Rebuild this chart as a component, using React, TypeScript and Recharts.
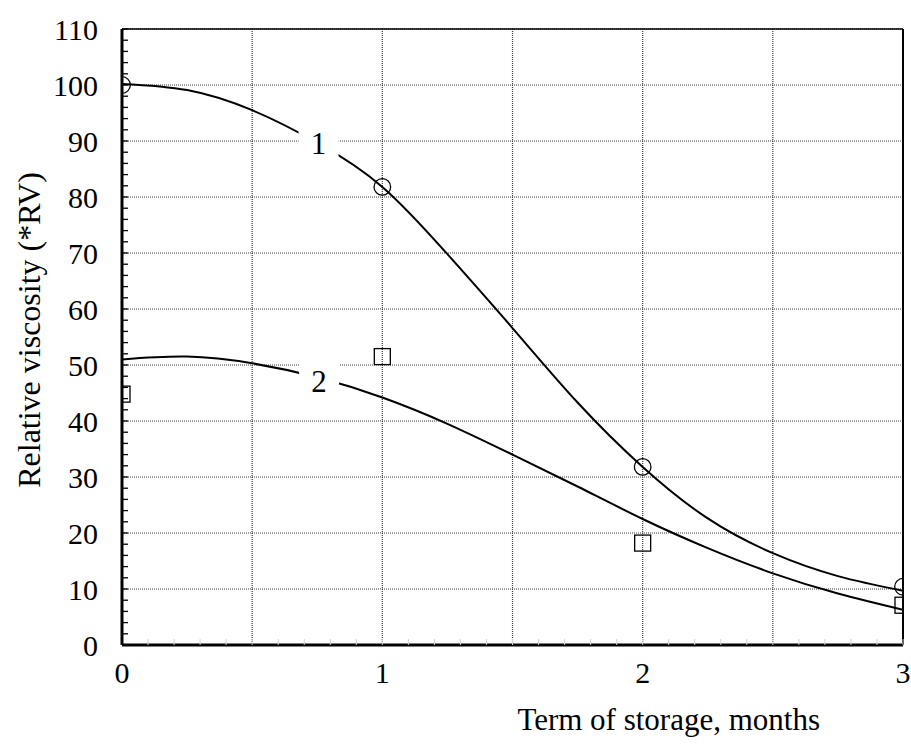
import {
  CartesianGrid,
  ComposedChart,
  Line,
  ReferenceLine,
  Scatter,
  XAxis,
  YAxis,
} from "recharts";

// measured points, months 0..3
const months = [0, 1, 2, 3];
const rvMeasured1 = [100, 81.8, 31.8, 10.4];
const rvMeasured2 = [44.8, 51.5, 18.2, 7.1];

// fitted curves, sampled every quarter month
const curveMonths = [0, 0.25, 0.5, 0.75, 1, 1.25, 1.5, 1.75, 2, 2.25, 2.5, 2.75, 3];
const rvCurve1 = [100.2, 99.1, 95.5, 89.7, 81.8, 69.8, 56.6, 43.3, 31.8, 22.6, 16.4, 12.3, 9.7];
const rvCurve2 = [51.0, 51.5, 50.3, 47.8, 44.2, 39.5, 34.0, 28.3, 22.5, 17.3, 12.8, 9.2, 6.3];

// curve numbers sitting on the lines
const curveTags = ["1", "2"];
const curveTagMonth = [0.755, 0.757];
const curveTagRv = [89.6, 47.0];

// axis ticks (major + minor) and grid lines
const monthTicks = [
  0, 0.1, 0.2, 0.3, 0.4, 0.5, 0.6, 0.7, 0.8, 0.9, 1, 1.1, 1.2, 1.3, 1.4, 1.5, 1.6, 1.7, 1.8,
  1.9, 2, 2.1, 2.2, 2.3, 2.4, 2.5, 2.6, 2.7, 2.8, 2.9, 3,
];
const rvTicks = [
  0, 2, 4, 6, 8, 10, 12, 14, 16, 18, 20, 22, 24, 26, 28, 30, 32, 34, 36, 38, 40, 42, 44, 46, 48,
  50, 52, 54, 56, 58, 60, 62, 64, 66, 68, 70, 72, 74, 76, 78, 80, 82, 84, 86, 88, 90, 92, 94, 96,
  98, 100, 102, 104, 106, 108, 110,
];
const gridMonths = [0.5, 1, 1.5, 2, 2.5];
const gridRv = [10, 20, 30, 40, 50, 60, 70, 80, 90, 100];

const FONT = "Liberation Serif, Times New Roman, serif";

const curve1 = curveMonths.map((x, i) => ({ x, y: rvCurve1[i] }));
const curve2 = curveMonths.map((x, i) => ({ x, y: rvCurve2[i] }));
const points1 = months.map((x, i) => ({ x, y: rvMeasured1[i] }));
const points2 = months.map((x, i) => ({ x, y: rvMeasured2[i] }));
const tags = curveTags.map((t, i) => ({ x: curveTagMonth[i], y: curveTagRv[i], t }));

const Circle = (p: any) => (
  <circle cx={p.cx} cy={p.cy} r={8.3} fill="none" stroke="#000" strokeWidth={1.3} />
);

const Square = (p: any) => (
  <rect x={p.cx - 8} y={p.cy - 8} width={16} height={16} fill="none" stroke="#000" strokeWidth={1.3} />
);

const Tag = (p: any) => (
  <g>
    <rect x={p.cx - 20} y={p.cy - 20} width={40} height={40} fill="#fff" />
    <text
      x={p.cx}
      y={p.cy}
      textAnchor="middle"
      dominantBaseline="central"
      style={{ fontFamily: FONT }}
      fontSize={31}
      fill="#000"
    >
      {p.payload.t}
    </text>
  </g>
);

const YTitle = (p: any) => {
  const { x, y, height } = p.viewBox;
  const cx = x + 29;
  const cy = y + height / 2 - 7;
  return (
    <text
      x={cx}
      y={cy}
      transform={`rotate(-90 ${cx} ${cy})`}
      textAnchor="middle"
      dominantBaseline="central"
      style={{ fontFamily: FONT }}
      fontSize={32}
      fill="#000"
    >
      Relative viscosity (*RV)
    </text>
  );
};

const XTitle = (p: any) => {
  const { x, y, width } = p.viewBox;
  return (
    <text
      x={x + width * 0.7}
      y={y + 74}
      textAnchor="middle"
      dominantBaseline="central"
      style={{ fontFamily: FONT }}
      fontSize={31}
      fill="#000"
    >
      Term of storage, months
    </text>
  );
};

export default function App() {
  return (
    <div
      style={{
        position: "absolute",
        left: 0,
        top: 0,
        width: 911,
        height: 744,
        background: "#fff",
        fontFamily: FONT,
      }}
    >
      <ComposedChart width={911} height={744} margin={{ top: 29, right: 8, bottom: 0, left: 0 }}>
        <XAxis xAxisId="grid" type="number" dataKey="x" domain={[0, 3]} ticks={gridMonths} allowDataOverflow hide />
        <YAxis yAxisId="grid" type="number" domain={[0, 110]} ticks={gridRv} allowDataOverflow hide />
        <CartesianGrid
          xAxisId="grid"
          yAxisId="grid"
          stroke="#3a3a3a"
          strokeDasharray="1 1"
          strokeWidth={1.2}
        />
        <XAxis
          type="number"
          dataKey="x"
          domain={[0, 3]}
          ticks={monthTicks}
          interval={0}
          allowDataOverflow
          height={99}
          tickSize={-6}
          tickMargin={23}
          tickFormatter={(v: number) => (Number.isInteger(v) ? String(v) : "")}
          axisLine={{ stroke: "#000", strokeWidth: 3 }}
          tickLine={{ stroke: "#d0d0d0", strokeWidth: 1 }}
          tick={{ fill: "#000", fontSize: 30, fontFamily: FONT }}
          label={XTitle}
        />
        <YAxis
          type="number"
          dataKey="y"
          domain={[0, 110]}
          ticks={rvTicks}
          interval={0}
          allowDataOverflow
          width={122}
          tickSize={-6}
          tickMargin={30}
          tickFormatter={(v: number) => (v % 10 === 0 ? String(v) : "")}
          axisLine={{ stroke: "#000", strokeWidth: 3 }}
          tickLine={{ stroke: "#000", strokeWidth: 1.3 }}
          tick={{ fill: "#000", fontSize: 30, fontFamily: FONT }}
          label={YTitle}
        />
        <ReferenceLine y={110} stroke="#000" strokeWidth={1.6} />
        <ReferenceLine x={3} stroke="#000" strokeWidth={2} />
        <Line
          data={curve1}
          dataKey="y"
          type="natural"
          stroke="#000"
          strokeWidth={2}
          dot={false}
          activeDot={false}
          isAnimationActive={false}
        />
        <Line
          data={curve2}
          dataKey="y"
          type="natural"
          stroke="#000"
          strokeWidth={2}
          dot={false}
          activeDot={false}
          isAnimationActive={false}
        />
        <Scatter data={tags} dataKey="y" shape={Tag} isAnimationActive={false} />
        <Scatter data={points1} dataKey="y" shape={Circle} isAnimationActive={false} />
        <Scatter data={points2} dataKey="y" shape={Square} isAnimationActive={false} />
      </ComposedChart>
    </div>
  );
}
